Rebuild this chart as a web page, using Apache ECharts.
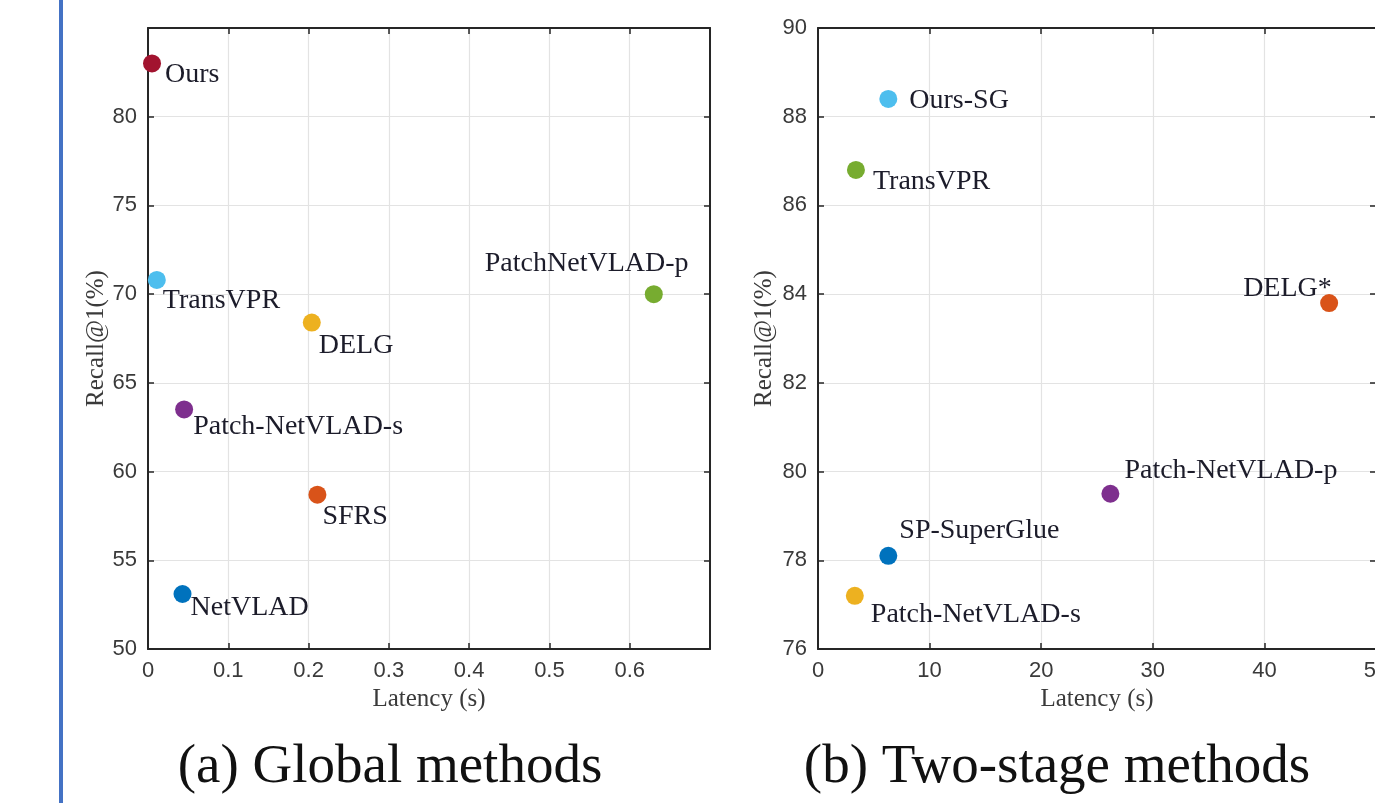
<!DOCTYPE html>
<html>
<head>
<meta charset="utf-8">
<script src="https://cdn.jsdelivr.net/npm/echarts@6/dist/echarts.min.js"></script>
<style>
  html, body { margin: 0; padding: 0; background: #fff; }
  #chart { width: 1375px; height: 803px; }
</style>
</head>
<body>
<div id="chart"></div>
<script>
// (a) global methods
const globalNames = ['Ours', 'TransVPR', 'DELG', 'PatchNetVLAD-p', 'Patch-NetVLAD-s', 'SFRS', 'NetVLAD'];
const globalLatency = [0.005, 0.011, 0.204, 0.630, 0.045, 0.211, 0.043];
const globalRecall = [83.0, 70.8, 68.4, 70.0, 63.5, 58.7, 53.1];

// (b) two-stage methods
const twoStageNames = ['Ours-SG', 'TransVPR', 'DELG*', 'Patch-NetVLAD-p', 'SP-SuperGlue', 'Patch-NetVLAD-s'];
const twoStageLatency = [6.3, 3.4, 45.8, 26.2, 6.3, 3.3];
const twoStageRecall = [88.4, 86.8, 83.8, 79.5, 78.1, 77.2];

// colores estilo MATLAB
const globalColors = ['#A2142F', '#4DBEEE', '#EDB120', '#77AC30', '#7E2F8E', '#D95319', '#0072BD'];
const twoStageColors = ['#4DBEEE', '#77AC30', '#D95319', '#7E2F8E', '#0072BD', '#EDB120'];

// desplazamiento de etiquetas (px) respecto al punto
const globalLabelOffsets = [[4, 11], [-3, 21], [-2, 23], [-178, -31], [0, 17], [-4, 22], [-1, 14]];
const twoStageLabelOffsets = [[12, 2], [8, 12], [-95, -14], [5, -23], [2, -25], [7, 19]];

const axisColor = '#262626';
const serif = '"Liberation Serif", "DejaVu Serif", serif';
const sans = '"Liberation Sans", Arial, sans-serif';

const buildData = (xs, ys, names, colors, offsets) =>
  xs.map((x, i) => ({
    value: [x, ys[i]],
    name: names[i],
    itemStyle: { color: colors[i], opacity: 1 },
    label: { offset: offsets[i] },
  }));

const mainX = (grid, min, max, interval) => ({
  gridIndex: grid,
  type: 'value',
  min, max, interval,
  name: 'Latency (s)',
  nameLocation: 'middle',
  nameGap: 38,
  nameTextStyle: { fontFamily: serif, fontSize: 25, color: '#3a3a3a' },
  axisLine: { show: true, onZero: false, lineStyle: { color: axisColor, width: 2 } },
  axisTick: { show: true, inside: true, length: 6, lineStyle: { color: axisColor, width: 1.5 } },
  axisLabel: { showMaxLabel: grid !== 0, fontFamily: sans, fontSize: 22, color: '#3a3a3a', margin: 11 },
  splitLine: { show: true, lineStyle: { color: '#e3e3e3', width: 1.2 } },
});

const mirrorX = (grid, min, max, interval) => ({
  gridIndex: grid,
  type: 'value',
  position: 'top',
  min, max, interval,
  axisLine: { show: true, onZero: false, lineStyle: { color: axisColor, width: 2 } },
  axisTick: { show: true, inside: true, length: 6, lineStyle: { color: axisColor, width: 1.5 } },
  axisLabel: { show: false },
  splitLine: { show: false },
});

const mainY = (grid, min, max, interval, showMax) => ({
  gridIndex: grid,
  type: 'value',
  min, max, interval,
  name: 'Recall@1(%)',
  nameLocation: 'middle',
  nameGap: grid === 0 ? 38 : 41,
  nameTextStyle: { fontFamily: serif, fontSize: 25, color: '#3a3a3a' },
  axisLine: { show: true, onZero: false, lineStyle: { color: axisColor, width: 2 } },
  axisTick: { show: true, inside: true, length: 6, lineStyle: { color: axisColor, width: 1.5 } },
  axisLabel: { showMaxLabel: showMax, fontFamily: sans, fontSize: 22, color: '#3a3a3a', margin: 11 },
  splitLine: { show: true, lineStyle: { color: '#e3e3e3', width: 1.2 } },
});

const mirrorY = (grid, min, max, interval) => ({
  gridIndex: grid,
  type: 'value',
  position: 'right',
  min, max, interval,
  axisLine: { show: true, onZero: false, lineStyle: { color: axisColor, width: 2 } },
  axisTick: { show: true, inside: true, length: 6, lineStyle: { color: axisColor, width: 1.5 } },
  axisLabel: { show: false },
  splitLine: { show: false },
});

const scatterLabel = {
  show: true,
  position: 'right',
  distance: 0,
  formatter: '{b}',
  fontFamily: serif,
  fontSize: 28,
  color: '#1c1c2a',
};

const option = {
  backgroundColor: '#fff',
  animation: false,
  grid: [
    { left: 148, top: 28, width: 562, height: 621, outerBoundsMode: 'none' },
    { left: 818, top: 28, width: 558, height: 621, outerBoundsMode: 'none' },
  ],
  xAxis: [
    mainX(0, 0, 0.7, 0.1),
    mirrorX(0, 0, 0.7, 0.1),
    mainX(1, 0, 50, 10),
    mirrorX(1, 0, 50, 10),
  ],
  yAxis: [
    mainY(0, 50, 85, 5, false),
    mirrorY(0, 50, 85, 5),
    mainY(1, 76, 90, 2, true),
    mirrorY(1, 76, 90, 2),
  ],
  series: [
    {
      type: 'scatter',
      xAxisIndex: 0,
      yAxisIndex: 0,
      symbolSize: 18,
      label: scatterLabel,
      data: buildData(globalLatency, globalRecall, globalNames, globalColors, globalLabelOffsets),
    },
    {
      type: 'scatter',
      xAxisIndex: 2,
      yAxisIndex: 2,
      symbolSize: 18,
      label: scatterLabel,
      data: buildData(twoStageLatency, twoStageRecall, twoStageNames, twoStageColors, twoStageLabelOffsets),
    },
  ],
  graphic: [
    { type: 'rect', shape: { x: 59, y: 0, width: 4, height: 803 }, style: { fill: '#4472C4' } },
    {
      type: 'text', x: 390, y: 768,
      style: { text: '(a) Global methods', font: '55px ' + serif, fill: '#111', align: 'center', verticalAlign: 'middle' },
    },
    {
      type: 'text', x: 1057, y: 768,
      style: { text: '(b) Two-stage methods', font: '55px ' + serif, fill: '#111', align: 'center', verticalAlign: 'middle' },
    },
  ],
};

const chart = echarts.init(document.getElementById('chart'));
chart.setOption(option);
window.addEventListener('resize', () => chart.resize());
</script>
</body>
</html>
